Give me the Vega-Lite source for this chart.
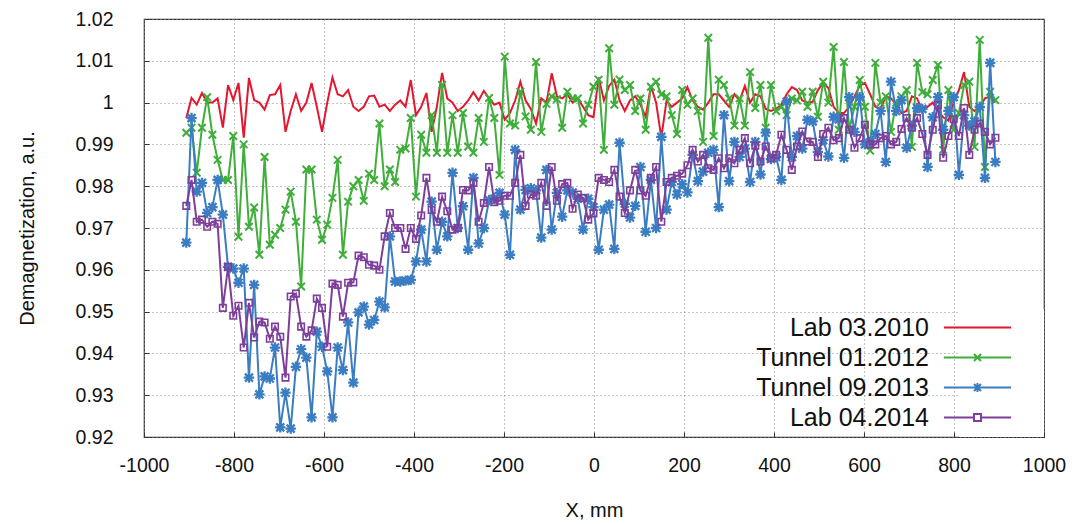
{
  "$schema": "https://vega.github.io/schema/vega-lite/v6.json",
  "width": 900,
  "height": 418,
  "autosize": "none",
  "padding": {"left": 144, "top": 19, "right": 41, "bottom": 87},
  "background": "white",
  "config": {
    "view": {"stroke": "#333", "strokeWidth": 1.2},
    "font": "Liberation Sans",
    "axis": {
      "labelFont": "Liberation Sans", "labelFontSize": 19.5, "labelColor": "#111",
      "titleFont": "Liberation Sans", "titleFontSize": 20, "titleFontWeight": "normal", "titleColor": "#111",
      "grid": true, "gridDash": [1, 3], "gridColor": "#888", "gridWidth": 1,
      "domain": false, "ticks": true, "tickSize": -5, "tickColor": "#333", "tickWidth": 1
    }
  },
  "data": {"values": [
    {"x": -906, "a": 0.9963, "b": 0.9928, "c": 0.9665, "d": 0.9753},
    {"x": -894.4, "a": 1.0011, "b": 0.994, "c": 0.9963, "d": 0.9815},
    {"x": -882.8, "a": 0.9995, "b": 0.9832, "c": 0.9787, "d": 0.9715},
    {"x": -871.2, "a": 1.0023, "b": 0.994, "c": 0.9808, "d": 0.972},
    {"x": -859.6, "a": 1.0, "b": 1.0013, "c": 0.9736, "d": 0.9703},
    {"x": -848, "a": 1.0, "b": 0.9923, "c": 0.975, "d": 0.9715},
    {"x": -836.4, "a": 1.001, "b": 0.9863, "c": 0.9815, "d": 0.971},
    {"x": -824.8, "a": 0.994, "b": 0.9815, "c": 0.9732, "d": 0.9509},
    {"x": -813.2, "a": 1.0042, "b": 0.9815, "c": 0.9607, "d": 0.9607},
    {"x": -801.6, "a": 1.0006, "b": 0.992, "c": 0.9603, "d": 0.949},
    {"x": -790, "a": 1.0047, "b": 0.9679, "c": 0.9569, "d": 0.9514},
    {"x": -778.4, "a": 0.9916, "b": 0.99, "c": 0.9603, "d": 0.9414},
    {"x": -766.8, "a": 1.0059, "b": 0.9703, "c": 0.9342, "d": 0.9521},
    {"x": -755.2, "a": 1.0006, "b": 0.9749, "c": 0.9564, "d": 0.9438},
    {"x": -743.6, "a": 1.0, "b": 0.9636, "c": 0.9302, "d": 0.9476},
    {"x": -732, "a": 0.9983, "b": 0.987, "c": 0.9345, "d": 0.9474},
    {"x": -720.4, "a": 1.0018, "b": 0.966, "c": 0.934, "d": 0.9435},
    {"x": -708.8, "a": 1.002, "b": 0.9684, "c": 0.9414, "d": 0.9464},
    {"x": -697.2, "a": 1.0042, "b": 0.97, "c": 0.9223, "d": 0.944},
    {"x": -685.6, "a": 0.993, "b": 0.9744, "c": 0.9306, "d": 0.9342},
    {"x": -674, "a": 0.998, "b": 0.9787, "c": 0.922, "d": 0.9536},
    {"x": -662.4, "a": 1.002, "b": 0.9715, "c": 0.9368, "d": 0.9543},
    {"x": -650.8, "a": 0.998, "b": 0.956, "c": 0.941, "d": 0.9464},
    {"x": -639.2, "a": 1.0, "b": 0.984, "c": 0.939, "d": 0.944},
    {"x": -627.6, "a": 1.0047, "b": 0.984, "c": 0.9247, "d": 0.9455},
    {"x": -616, "a": 0.999, "b": 0.972, "c": 0.9452, "d": 0.9531},
    {"x": -604.4, "a": 0.993, "b": 0.9672, "c": 0.9416, "d": 0.9509},
    {"x": -592.8, "a": 1.0, "b": 0.9708, "c": 0.9357, "d": 0.9416},
    {"x": -581.2, "a": 1.006, "b": 0.9772, "c": 0.9247, "d": 0.9567},
    {"x": -569.6, "a": 1.002, "b": 0.9863, "c": 0.9414, "d": 0.9564},
    {"x": -558, "a": 1.0015, "b": 0.9636, "c": 0.936, "d": 0.9488},
    {"x": -546.4, "a": 1.003, "b": 0.9763, "c": 0.9474, "d": 0.9569},
    {"x": -534.8, "a": 0.999, "b": 0.98, "c": 0.933, "d": 0.957},
    {"x": -523.2, "a": 0.998, "b": 0.9815, "c": 0.9498, "d": 0.9634},
    {"x": -511.6, "a": 0.999, "b": 0.9765, "c": 0.9512, "d": 0.963},
    {"x": -500, "a": 1.0015, "b": 0.983, "c": 0.9469, "d": 0.9612},
    {"x": -488.4, "a": 1.0017, "b": 0.9815, "c": 0.948, "d": 0.961},
    {"x": -476.8, "a": 0.999, "b": 0.995, "c": 0.9524, "d": 0.96},
    {"x": -465.2, "a": 0.9995, "b": 0.98, "c": 0.951, "d": 0.968},
    {"x": -453.6, "a": 0.998, "b": 0.984, "c": 0.968, "d": 0.9736},
    {"x": -442, "a": 0.9995, "b": 0.981, "c": 0.9572, "d": 0.97},
    {"x": -430.4, "a": 1.0005, "b": 0.9887, "c": 0.9572, "d": 0.97},
    {"x": -418.8, "a": 0.999, "b": 0.989, "c": 0.9574, "d": 0.965},
    {"x": -407.2, "a": 1.0054, "b": 0.9963, "c": 0.9576, "d": 0.97},
    {"x": -395.6, "a": 0.997, "b": 0.9775, "c": 0.962, "d": 0.9674},
    {"x": -384, "a": 0.999, "b": 0.9923, "c": 0.9696, "d": 0.973},
    {"x": -372.4, "a": 1.0023, "b": 0.988, "c": 0.962, "d": 0.982},
    {"x": -360.8, "a": 0.993, "b": 0.997, "c": 0.9763, "d": 0.9743},
    {"x": -349.2, "a": 0.999, "b": 0.988, "c": 0.9648, "d": 0.9715},
    {"x": -337.6, "a": 1.0071, "b": 1.0042, "c": 0.9715, "d": 0.9775},
    {"x": -326, "a": 1.001, "b": 0.988, "c": 0.968, "d": 0.974},
    {"x": -314.4, "a": 1.0, "b": 0.997, "c": 0.9832, "d": 0.9696},
    {"x": -302.8, "a": 0.998, "b": 0.988, "c": 0.97, "d": 0.97},
    {"x": -291.2, "a": 0.999, "b": 0.9975, "c": 0.9752, "d": 0.9791},
    {"x": -279.6, "a": 1.0005, "b": 0.9895, "c": 0.9648, "d": 0.979},
    {"x": -268, "a": 1.0025, "b": 0.988, "c": 0.982, "d": 0.9808},
    {"x": -256.4, "a": 1.0005, "b": 0.9963, "c": 0.9663, "d": 0.9715},
    {"x": -244.8, "a": 1.0028, "b": 0.9906, "c": 0.97, "d": 0.976},
    {"x": -233.2, "a": 1.001, "b": 1.0011, "c": 0.9767, "d": 0.9846},
    {"x": -221.6, "a": 0.9995, "b": 0.9963, "c": 0.977, "d": 0.9762},
    {"x": -210, "a": 1.0, "b": 0.9827, "c": 0.9784, "d": 0.9765},
    {"x": -198.4, "a": 0.9959, "b": 1.011, "c": 0.9732, "d": 0.9777},
    {"x": -186.8, "a": 0.9975, "b": 0.995, "c": 0.9636, "d": 0.9777},
    {"x": -175.2, "a": 1.0005, "b": 0.9945, "c": 0.9887, "d": 0.9808},
    {"x": -163.6, "a": 1.005, "b": 1.0026, "c": 0.9744, "d": 0.9875},
    {"x": -152, "a": 1.0005, "b": 0.9967, "c": 0.9791, "d": 0.9753},
    {"x": -140.4, "a": 0.9985, "b": 0.9935, "c": 0.9795, "d": 0.978},
    {"x": -128.8, "a": 0.995, "b": 1.0097, "c": 0.979, "d": 0.9777},
    {"x": -117.2, "a": 1.001, "b": 0.993, "c": 0.9677, "d": 0.9808},
    {"x": -105.6, "a": 1.0, "b": 0.9997, "c": 0.9839, "d": 0.9753},
    {"x": -94, "a": 1.007, "b": 1.0015, "c": 0.9696, "d": 0.9846},
    {"x": -82.4, "a": 1.0015, "b": 1.0008, "c": 0.9784, "d": 0.9765},
    {"x": -70.8, "a": 1.001, "b": 0.994, "c": 0.9727, "d": 0.9805},
    {"x": -59.2, "a": 1.002, "b": 1.0026, "c": 0.979, "d": 0.9808},
    {"x": -47.6, "a": 1.0, "b": 1.001, "c": 0.9785, "d": 0.9746},
    {"x": -36, "a": 1.001, "b": 1.001, "c": 0.977, "d": 0.978},
    {"x": -24.4, "a": 0.999, "b": 0.995, "c": 0.9696, "d": 0.9772},
    {"x": -12.8, "a": 0.997, "b": 0.9995, "c": 0.977, "d": 0.972},
    {"x": -1.2, "a": 0.9965, "b": 1.0038, "c": 0.975, "d": 0.9735},
    {"x": 10.4, "a": 1.006, "b": 1.0055, "c": 0.9648, "d": 0.982},
    {"x": 22, "a": 1.0005, "b": 0.9887, "c": 0.9744, "d": 0.9815},
    {"x": 33.6, "a": 1.004, "b": 1.013, "c": 0.9756, "d": 0.981},
    {"x": 45.2, "a": 1.0055, "b": 0.9995, "c": 0.965, "d": 0.9839},
    {"x": 56.8, "a": 1.0005, "b": 1.0055, "c": 0.9904, "d": 0.9775},
    {"x": 68.4, "a": 0.998, "b": 1.003, "c": 0.9758, "d": 0.9736},
    {"x": 80, "a": 1.0005, "b": 1.0042, "c": 0.9725, "d": 0.979},
    {"x": 91.6, "a": 1.0015, "b": 0.998, "c": 0.9753, "d": 0.9839},
    {"x": 103.2, "a": 0.9995, "b": 1.001, "c": 0.9846, "d": 0.979},
    {"x": 114.8, "a": 0.9966, "b": 0.9935, "c": 0.9691, "d": 0.9777},
    {"x": 126.4, "a": 1.004, "b": 1.0038, "c": 0.9815, "d": 0.982},
    {"x": 138, "a": 1.0, "b": 1.005, "c": 0.97, "d": 0.9846},
    {"x": 149.6, "a": 0.9916, "b": 1.002, "c": 0.9918, "d": 0.9715},
    {"x": 161.2, "a": 1.0005, "b": 1.0015, "c": 0.9744, "d": 0.981},
    {"x": 172.8, "a": 0.999, "b": 0.997, "c": 0.981, "d": 0.982},
    {"x": 184.4, "a": 1.0, "b": 0.9925, "c": 0.978, "d": 0.9825},
    {"x": 196, "a": 1.001, "b": 1.003, "c": 0.9805, "d": 0.983},
    {"x": 207.6, "a": 1.0037, "b": 0.9995, "c": 0.9785, "d": 0.985},
    {"x": 219.2, "a": 1.0005, "b": 1.001, "c": 0.9875, "d": 0.9887},
    {"x": 230.8, "a": 0.999, "b": 0.998, "c": 0.9812, "d": 0.9859},
    {"x": 242.4, "a": 0.9983, "b": 0.9906, "c": 0.9835, "d": 0.9875},
    {"x": 254, "a": 1.0, "b": 1.0155, "c": 0.988, "d": 0.9843},
    {"x": 265.6, "a": 1.002, "b": 0.992, "c": 0.9887, "d": 0.9839},
    {"x": 277.2, "a": 1.002, "b": 1.0055, "c": 0.975, "d": 0.9867},
    {"x": 288.8, "a": 1.0005, "b": 1.0042, "c": 0.997, "d": 0.9843},
    {"x": 300.4, "a": 0.999, "b": 1.001, "c": 0.9812, "d": 0.9867},
    {"x": 312, "a": 1.002, "b": 0.9945, "c": 0.9906, "d": 0.9855},
    {"x": 323.6, "a": 1.0005, "b": 1.001, "c": 0.987, "d": 0.9887},
    {"x": 335.2, "a": 1.004, "b": 0.9945, "c": 0.989, "d": 0.9915},
    {"x": 346.8, "a": 1.0, "b": 1.0073, "c": 0.981, "d": 0.9855},
    {"x": 358.4, "a": 1.002, "b": 0.9987, "c": 0.9906, "d": 0.9897},
    {"x": 370, "a": 1.0015, "b": 1.0042, "c": 0.9828, "d": 0.9859},
    {"x": 381.6, "a": 0.9985, "b": 0.994, "c": 0.9928, "d": 0.9895},
    {"x": 393.2, "a": 0.998, "b": 1.0042, "c": 0.9865, "d": 0.9867},
    {"x": 404.8, "a": 0.9985, "b": 0.998, "c": 0.987, "d": 0.9875},
    {"x": 416.4, "a": 0.9995, "b": 0.999, "c": 0.9815, "d": 0.9923},
    {"x": 428, "a": 1.002, "b": 0.997, "c": 1.0002, "d": 0.9887},
    {"x": 439.6, "a": 1.0037, "b": 1.001, "c": 0.987, "d": 0.9839},
    {"x": 451.2, "a": 1.003, "b": 1.0005, "c": 0.992, "d": 0.9895},
    {"x": 462.8, "a": 1.0005, "b": 1.0026, "c": 0.989, "d": 0.9931},
    {"x": 474.4, "a": 1.0, "b": 0.999, "c": 0.9959, "d": 0.9907},
    {"x": 486, "a": 1.0002, "b": 1.0026, "c": 0.9955, "d": 0.9906},
    {"x": 497.6, "a": 1.003, "b": 0.9966, "c": 0.9882, "d": 0.987},
    {"x": 509.2, "a": 1.0047, "b": 1.005, "c": 0.991, "d": 0.9925},
    {"x": 520.8, "a": 1.0035, "b": 1.0, "c": 0.9871, "d": 0.994},
    {"x": 532.4, "a": 0.999, "b": 1.0133, "c": 0.9966, "d": 0.991},
    {"x": 544, "a": 0.9975, "b": 0.9935, "c": 0.996, "d": 0.9915},
    {"x": 555.6, "a": 0.9975, "b": 1.0097, "c": 0.9868, "d": 0.9963},
    {"x": 567.2, "a": 0.999, "b": 0.9935, "c": 1.0013, "d": 0.9935},
    {"x": 578.8, "a": 1.0015, "b": 0.999, "c": 0.993, "d": 0.9892},
    {"x": 590.4, "a": 1.004, "b": 1.0054, "c": 1.0013, "d": 0.9915},
    {"x": 602, "a": 1.0047, "b": 0.999, "c": 0.99, "d": 0.9947},
    {"x": 613.6, "a": 1.002, "b": 0.9885, "c": 0.9905, "d": 0.99},
    {"x": 625.2, "a": 0.999, "b": 1.0095, "c": 0.9925, "d": 0.99},
    {"x": 636.8, "a": 0.9985, "b": 1.0, "c": 0.998, "d": 0.9915},
    {"x": 648.4, "a": 1.0015, "b": 1.0015, "c": 0.9858, "d": 0.992},
    {"x": 660, "a": 1.001, "b": 0.993, "c": 1.005, "d": 0.99},
    {"x": 671.6, "a": 0.9995, "b": 1.0, "c": 0.998, "d": 0.9906},
    {"x": 683.2, "a": 0.9975, "b": 1.0015, "c": 1.0006, "d": 0.9937},
    {"x": 694.8, "a": 0.998, "b": 1.003, "c": 0.9892, "d": 0.9963},
    {"x": 706.4, "a": 1.0015, "b": 0.9894, "c": 0.9945, "d": 0.994},
    {"x": 718, "a": 1.001, "b": 1.0095, "c": 0.9987, "d": 0.9963},
    {"x": 729.6, "a": 0.998, "b": 1.0025, "c": 0.9985, "d": 0.9925},
    {"x": 741.2, "a": 0.999, "b": 1.002, "c": 0.9846, "d": 0.9875},
    {"x": 752.8, "a": 1.0, "b": 1.0054, "c": 0.9965, "d": 0.9935},
    {"x": 764.4, "a": 0.998, "b": 1.009, "c": 1.0013, "d": 0.9994},
    {"x": 776, "a": 0.9965, "b": 0.9887, "c": 0.9935, "d": 0.9868},
    {"x": 787.6, "a": 0.9957, "b": 1.003, "c": 0.998, "d": 0.992},
    {"x": 799.2, "a": 1.0, "b": 0.9935, "c": 1.0013, "d": 0.996},
    {"x": 810.8, "a": 1.003, "b": 0.9975, "c": 0.9827, "d": 0.992},
    {"x": 822.4, "a": 1.0073, "b": 1.0042, "c": 0.997, "d": 0.9987},
    {"x": 834, "a": 0.999, "b": 1.005, "c": 0.9945, "d": 0.9875},
    {"x": 845.6, "a": 0.998, "b": 0.9894, "c": 0.9955, "d": 0.9935},
    {"x": 857.2, "a": 0.999, "b": 1.015, "c": 0.999, "d": 0.995},
    {"x": 868.8, "a": 1.001, "b": 0.9846, "c": 0.982, "d": 0.993},
    {"x": 880.4, "a": 1.0015, "b": 1.0026, "c": 1.0095, "d": 0.99},
    {"x": 892, "a": 1.0, "b": 1.0006, "c": 0.9858, "d": 0.9916}
  ]},
  "transform": [{"fold": ["a", "b", "c", "d"], "as": ["series", "value"]}],
  "encoding": {
    "x": {
      "field": "x", "type": "quantitative",
      "scale": {"domain": [-1000, 1000], "nice": false, "zero": false},
      "axis": {"title": "X, mm", "values": [-1000, -800, -600, -400, -200, 0, 200, 400, 600, 800, 1000], "labelExpr": "toString(datum.value)", "labelPadding": 24, "titlePadding": 26, "labelFlush": false}
    },
    "y": {
      "field": "value", "type": "quantitative",
      "scale": {"domain": [0.92, 1.02], "nice": false, "zero": false},
      "axis": {"title": "Demagnetization, a.u.", "values": [0.92, 0.93, 0.94, 0.95, 0.96, 0.97, 0.98, 0.99, 1.0, 1.01, 1.02], "format": ".2~f", "labelPadding": 36, "titlePadding": 38}
    },
    "color": {
      "field": "series", "type": "nominal",
      "scale": {"domain": ["a", "b", "c", "d"], "range": ["#e3172f", "#3fae3a", "#3a7dc2", "#7e3f9b"]},
      "legend": {
        "title": null,
        "orient": "bottom-right",
        "offset": 0,
        "padding": 6,
        "fillColor": "white",
        "labelFont": "Liberation Sans",
        "labelFontSize": 25,
        "labelColor": "#111",
        "labelAlign": "right",
        "labelOffset": -61,
        "labelLimit": 400,
        "symbolSize": 49,
        "symbolOffset": 0,
        "symbolStrokeWidth": 2,
        "rowPadding": 4,
        "labelExpr": "{'a': 'Lab 03.2010', 'b': 'Tunnel 01.2012', 'c': 'Tunnel 09.2013', 'd': 'Lab 04.2014'}[datum.label]",
        "encoding": {
          "symbols": {
            "shape": {
              "condition": [
                {"test": "datum.value === 'a'", "value": "M-9.6,0L9.6,0M16,0"},
                {"test": "datum.value === 'b'", "value": "M-9.6,0L9.6,0M-1,-1L1,1M-1,1L1,-1M16,0"},
                {"test": "datum.value === 'c'", "value": "M-9.6,0L9.6,0M-1,-1L1,1M-1,1L1,-1M0,-1.3L0,1.3M-1.3,0L1.3,0M16,0"}
              ],
              "value": "M-9.6,0L-1,0M1,0L9.6,0M-1,-1L1,-1L1,1L-1,1ZM16,0"
            },
            "fill": {"value": "transparent"},
            "strokeWidth": {"value": 2}
          }
        }
      }
    }
  },
  "layer": [
    {"transform": [{"filter": "datum.series === 'a'"}], "mark": {"type": "line", "strokeWidth": 2}},
    {"transform": [{"filter": "datum.series === 'b'"}], "mark": {"type": "line", "strokeWidth": 2}},
    {"transform": [{"filter": "datum.series === 'b'"}], "mark": {"type": "point", "shape": "M-1,-1L1,1M-1,1L1,-1", "size": 56, "strokeWidth": 2, "filled": false, "opacity": 1}},
    {"transform": [{"filter": "datum.series === 'c'"}], "mark": {"type": "line", "strokeWidth": 2}},
    {"transform": [{"filter": "datum.series === 'c'"}], "mark": {"type": "point", "shape": "M-1,-1L1,1M-1,1L1,-1M0,-1.3L0,1.3M-1.3,0L1.3,0", "size": 64, "strokeWidth": 2.3, "filled": false, "opacity": 1}},
    {"transform": [{"filter": "datum.series === 'd'"}], "mark": {"type": "line", "strokeWidth": 2}},
    {"transform": [{"filter": "datum.series === 'd'"}], "mark": {"type": "point", "shape": "square", "size": 42, "strokeWidth": 1.6, "filled": false, "opacity": 1}}
  ]
}
